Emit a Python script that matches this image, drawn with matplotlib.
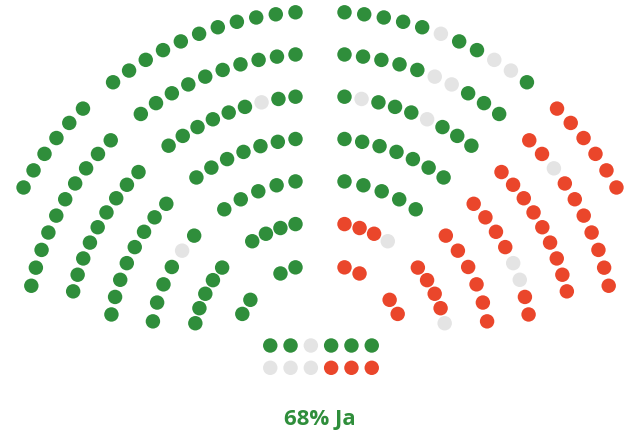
import numpy as np
import matplotlib.pyplot as plt

GREEN = "#2f8e3b"
RED = "#ea462b"
GREY = "#e4e4e4"
vote_colors = {"G": GREEN, "R": RED, "X": GREY}

# seats per row, outer row first
top_counts = [11, 10, 9, 7, 5, 4, 2]
side_counts = [6, 10, 9, 8, 6, 5, 2]

# G = Ja, R = Nein, X = keine Stimme; each row starts next to the boundary
left_top = ["GGGGGGGGGGG", "GGGGGGGGGG", "GGXGGGGGG", "GGGGGGG", "GGGGG", "GGGG", "GG"]
left_side = ["GGGGGG", "GGGGGGGGGG", "GGGGGGGGG", "GGGGGGGG", "GXGGGG", "GGGGG", "GG"]
right_top = ["GGGGGXGGXXG", "GGGGGXXGGG", "GXGGGXGGG", "GGGGGGG", "GGGGG", "RRRX", "RR"]
right_side = ["RRRRRR", "RRXRRRRRRR", "RRRRRRRRR", "RRRRXXRR", "RRRRRR", "RRRRX", "RR"]
extra = ["GGXGGG", "XXXRRR"]

label = "68% Ja"

# layout (pixels)
W, H = 624, 430
cx, cy = 320, 349
radii = 337.6 - 42.06 * np.arange(len(top_counts))
split = np.radians(131.2)
gap_mid, gap_side = 24.5, 20
dot = 108

fig = plt.figure(figsize=(W / 100, H / 100), dpi=100)
ax = fig.add_axes([0, 0, 1, 1])
ax.set_xlim(-cx, W - cx)
ax.set_ylim(cy - H, cy)
ax.axis("off")

xs, ys, cs = [], [], []
for k, r in enumerate(radii):
    a0 = np.pi / 2 + np.arcsin(gap_mid / r)
    a1 = split - np.arcsin(gap_side / r)
    step = (a1 - a0) / (top_counts[k] - 1)
    top = a0 + step * np.arange(top_counts[k])
    side = split + np.arcsin(gap_side / r) + step * np.arange(side_counts[k])
    for ang, votes in [(top, left_top[k]), (side, left_side[k]),
                       (np.pi - top, right_top[k]), (np.pi - side, right_side[k])]:
        xs += list(r * np.cos(ang))
        ys += list(r * np.sin(ang))
        cs += [vote_colors[v] for v in votes]

# the remaining 12 seats in two short rows below
for j, votes in enumerate(extra):
    for i, v in enumerate(votes):
        xs.append(1 + (i - 2.5) * 20.3)
        ys.append(3.5 - j * 22.3)
        cs.append(vote_colors[v])

ax.scatter(xs, ys, s=dot, c=cs, linewidths=0)
ax.text(-0.5, -71, label, ha="center", va="center", fontsize=16,
        fontweight="bold", color=GREEN, family=["Open Sans", "DejaVu Sans"])

fig.savefig("out.png", dpi=100)
